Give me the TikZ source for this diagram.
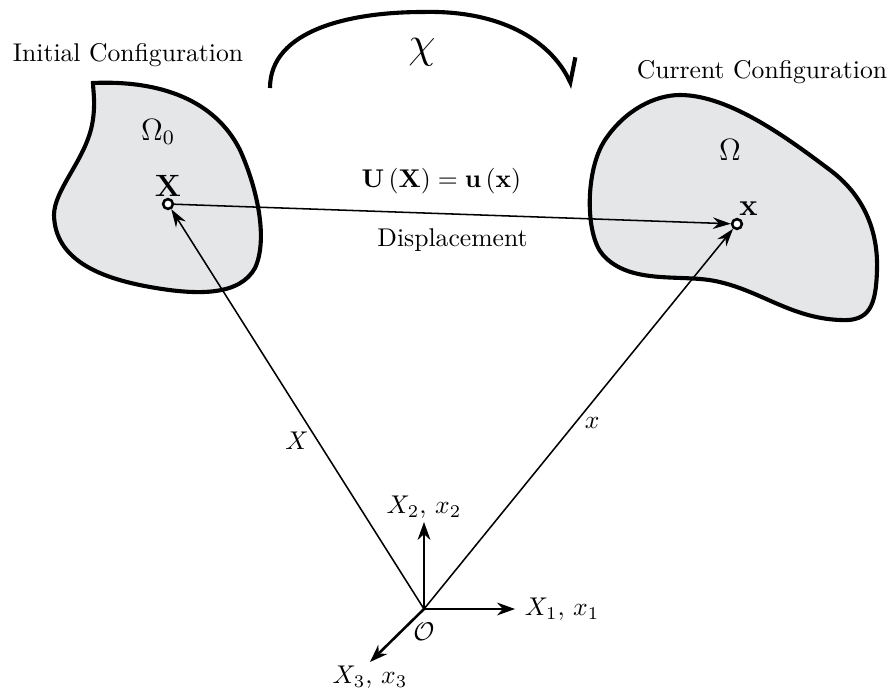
\documentclass[tikz,border=0pt]{standalone}
\usetikzlibrary{arrows.meta,positioning}
\definecolor{bodygray}{RGB}{229,230,232}
\begin{document}
\begin{tikzpicture}[x=0.39pt,y=-0.39pt,
  body/.style={fill=bodygray, line width=1.6pt},
  vec/.style={-{Stealth[length=7pt,width=4.5pt]}, line width=0.6pt},
  axis/.style={-{Stealth[length=7pt,width=5pt]}, line width=1pt},
  mapping/.style={-{Straight Barb[left,length=8pt,width=12pt]}, line width=1.6pt},
  pt/.style={circle, draw, fill=white, line width=1pt, inner sep=0pt, minimum size=3.8pt}]
\useasboundingbox (0,0) rectangle (894,693);
% bodies
\draw[body] (93,83) .. controls (160,80) and (215,100) .. (240,150)
  .. controls (258,190) and (268,240) .. (255,268)
  .. controls (240,295) and (200,296) .. (150,287)
  .. controls (100,278) and (55,260) .. (54,215)
  .. controls (54,190) and (85,160) .. (92,125)
  .. controls (96,105) and (93,90) .. cycle;
\draw[body] (680,95) .. controls (730,95) and (790,140) .. (830,170)
  .. controls (870,200) and (878,240) .. (877,270)
  .. controls (876,305) and (870,322) .. (840,320)
  .. controls (790,318) and (760,290) .. (715,281)
  .. controls (680,274) and (630,285) .. (603,255)
  .. controls (585,235) and (585,170) .. (605,140)
  .. controls (625,110) and (655,95) .. cycle;
\node[font=\large] (om0) at (158,132) {$\Omega_0$};
\node[font=\large] (om) at (730,150) {$\Omega$};
\node (init) at (128,55) {Initial Configuration};
\node (curr) at (762,72) {Current Configuration};
% mapping
\coordinate (chiA) at (270,88);
\coordinate (chiTop) at (423,12);
\coordinate (chiB) at (573,88);
\draw[mapping] (chiA) .. controls (270,30) and (350,12) .. (chiTop)
  .. controls (500,10) and (550,40) .. (chiB);
\node[font=\LARGE] (chi) at (422,52) {$\chi$};
% points
\node[pt] (P) at (168,204) {};
\node[pt] (p) at (737,224) {};
\node[font=\large, above=-3pt of P] (Plab) {$\mathbf{X}$};
\node[font=\large, above right=-2pt and -4.3pt of p] (plab) {$\mathbf{x}$};
\draw[vec] (P) -- (p)
  node[pos=.48, above=4pt] (ulab) {$\mathbf{U}\left(\mathbf{X}\right)=\mathbf{u}\left(\mathbf{x}\right)$}
  node[pos=.5, below=2pt] (dlab) {Displacement};
% frame
\coordinate (O) at (424,609);
\coordinate (e1) at (515,609);
\coordinate (e2) at (424,522);
\coordinate (e3) at (370,662);
\draw[axis] (O) -- (e1) node[right] (e1lab) {$X_1,\,x_1$};
\draw[axis] (O) -- (e2) node[above, inner sep=1pt] (e2lab) {$X_2,\,x_2$};
\draw[axis] (O) -- (e3) node[below, inner sep=1pt] (e3lab) {$X_3,\,x_3$};
\node[below=2pt of O] (olab) {$\mathcal{O}$};
\draw[vec] (O) -- (P) node[pos=.42, left] (Xlab) {$X$};
\draw[vec] (O) -- (p) node[pos=.49, right] (xlab) {$x$};
\end{tikzpicture}
\end{document}
